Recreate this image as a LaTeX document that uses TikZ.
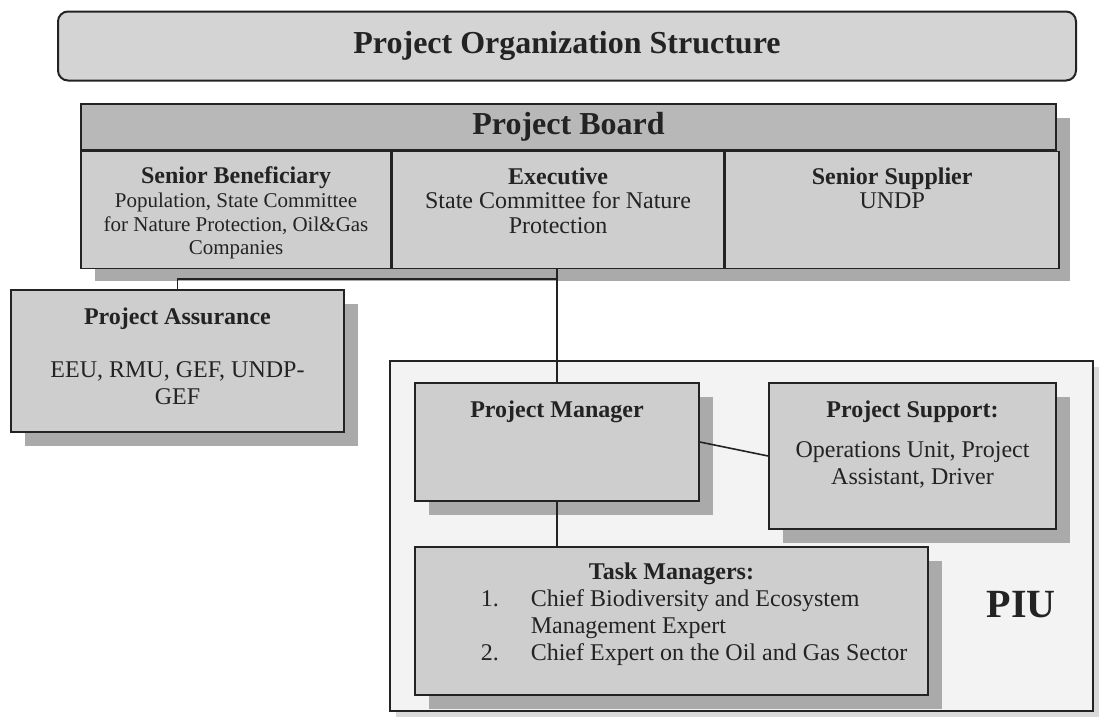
\documentclass[tikz,border=0pt]{standalone}
\usepackage{fontspec}
\setmainfont{Liberation Serif}
\usetikzlibrary{positioning, calc, shadows}
\definecolor{ink}{RGB}{35,35,35}
\definecolor{boxgray}{RGB}{206,206,206}
\definecolor{bandgray}{RGB}{184,184,184}
\definecolor{shadegray}{RGB}{170,170,170}
\definecolor{piugray}{RGB}{243,243,243}
\definecolor{titlegray}{RGB}{212,212,212}

\begin{document}
\begin{tikzpicture}[x=0.5pt, y=-0.5pt, line width=0.8pt]
  \tikzstyle{box} = [rectangle, draw=ink, fill=boxgray, inner sep=0pt, drop shadow={shadow xshift=7pt, shadow yshift=-7pt, fill=shadegray, opacity=1}]
  \tikzstyle{cell} = [rectangle, draw=ink, fill=boxgray, inner sep=0pt]
  \tikzstyle{head} = [font=\fontsize{12}{13}\selectfont\bfseries, text=ink, inner sep=0pt]
  \tikzstyle{body} = [font=\fontsize{12}{13.5}\selectfont, text=ink, align=center, inner sep=0pt]
  \tikzstyle{cellbody} = [font=\fontsize{12}{12.2}\selectfont, text=ink, align=center, inner sep=0pt]

  \useasboundingbox (0,0) rectangle (1104,719);

  % Title banner
  \node [rectangle, rounded corners=5pt, draw=ink, line width=1pt, fill=titlegray, minimum width=509pt, minimum height=34.5pt, font=\fontsize{16}{18}\selectfont\bfseries, text=ink] (title) at (567,46) {Project Organization Structure};

  % Project board with its three roles
  \node [box, minimum width=487.5pt, minimum height=81.5pt] (board) at (568.5,185.5) {};
  \node [cell, fill=bandgray, minimum width=487.5pt, minimum height=23pt, anchor=north, font=\fontsize{16}{18}\selectfont\bfseries, text=ink] (band) at (board.north) {Project Board};
  \node [cell, minimum width=155pt, minimum height=58.5pt, anchor=north west] (benef) at (band.south west) {};
  \node [cell, minimum width=165.5pt, minimum height=58.5pt, anchor=north west] (exec) at (benef.north east) {};
  \node [cell, minimum width=167pt, minimum height=58.5pt, anchor=north west] (supplier) at (exec.north east) {};
  \node [cellbody, font=\fontsize{10.5}{11.9}\selectfont, below=7.5pt of benef.north] (beneftext) {{\fontsize{12}{12}\selectfont\bfseries Senior Beneficiary}\\Population, State Committee\\for Nature Protection, Oil\&Gas\\Companies};
  \node [cellbody, below=8pt of exec.north] (exectext) {\textbf{Executive}\\State Committee for Nature\\Protection};
  \node [cellbody, below=8pt of supplier.north] (suppliertext) {\textbf{Senior Supplier}\\UNDP};

  % Assurance
  \node [box, minimum width=166.5pt, minimum height=71pt] (assure) at (177.5,361) {};
  \node [body, below=9pt of assure.north] (assuretext) {\textbf{Project Assurance}\\[13pt]EEU, RMU, GEF, UNDP-\\GEF};

  % PIU frame
  \node [rectangle, draw=ink, fill=piugray, minimum width=351.5pt, minimum height=175pt, drop shadow={shadow xshift=3pt, shadow yshift=-3pt, fill=black!15, opacity=1}] (piu) at (741.5,536) {};
  \node [font=\fontsize{20}{24}\selectfont\bfseries, text=ink] (piulabel) at (1021,605) {PIU};

  % Units inside the PIU
  \node [box, minimum width=142pt, minimum height=59pt] (pm) at (557,442) {};
  \node [head, below=9pt of pm.north] (pmtext) {Project Manager};
  \node [box, minimum width=143.5pt, minimum height=73pt] (ps) at (912.5,456) {};
  \node [body, below=9pt of ps.north] (pstext) {\textbf{Project Support:}\\[6.5pt]Operations Unit, Project\\Assistant, Driver};
  \node [box, minimum width=256.5pt, minimum height=74pt] (tm) at (671.5,621) {};
  \node [head, below=8pt of tm.north] (tmtext) {Task Managers:};
  \node [body, anchor=west, align=left] (tmlist) at (480,628) {\begin{tabular}{@{}r@{\hspace{16pt}}l@{}}1.&Chief Biodiversity and Ecosystem\\&Management Expert\\2.&Chief Expert on the Oil and Gas Sector\end{tabular}};

  % Connectors
  \coordinate (split) at (556,279);
  \draw [ink] (board.south -| pm.north) -- (pm.north);
  \draw [ink] (split) -| (assure.north);
  \draw [ink] (pm.east) -- (ps.west);
  \draw [ink] (pm.south) -- (pm.south |- tm.north);
\end{tikzpicture}
\end{document}
